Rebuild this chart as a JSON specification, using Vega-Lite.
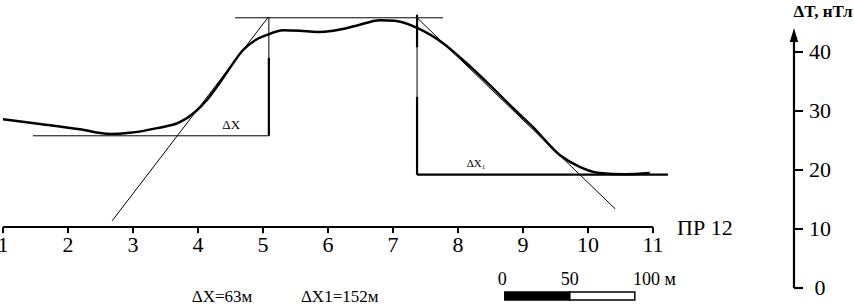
{
  "$schema": "https://vega.github.io/schema/vega-lite/v6.json",
  "width": 854,
  "height": 305,
  "autosize": "none",
  "padding": 0,
  "background": "white",
  "config": {"view": {"stroke": null}},
  "datasets": {
    "curve": [
      {"x": 1.0, "t": 28.6}, {"x": 1.57, "t": 27.8}, {"x": 2.18, "t": 26.9}, {"x": 2.65, "t": 26.1},
      {"x": 2.95, "t": 26.3}, {"x": 3.37, "t": 27.1}, {"x": 3.72, "t": 28.1}, {"x": 3.95, "t": 29.8},
      {"x": 4.14, "t": 31.9}, {"x": 4.29, "t": 34.1}, {"x": 4.49, "t": 37.3}, {"x": 4.69, "t": 40.3},
      {"x": 4.88, "t": 42.0}, {"x": 5.06, "t": 42.9}, {"x": 5.31, "t": 43.7}, {"x": 5.57, "t": 43.6},
      {"x": 5.83, "t": 43.4}, {"x": 6.08, "t": 43.6}, {"x": 6.42, "t": 44.4}, {"x": 6.8, "t": 45.4},
      {"x": 7.03, "t": 45.3}, {"x": 7.37, "t": 44.1}, {"x": 7.77, "t": 41.5}, {"x": 8.11, "t": 38.3},
      {"x": 8.45, "t": 34.8}, {"x": 8.8, "t": 31.0}, {"x": 9.15, "t": 27.3}, {"x": 9.57, "t": 22.5},
      {"x": 9.88, "t": 20.5}, {"x": 10.18, "t": 19.5}, {"x": 10.57, "t": 19.3}, {"x": 10.95, "t": 19.5}
    ],
    "thin": [
      {"x": 1.46, "t": 25.8, "x2": 5.09, "t2": 25.8},
      {"x": 5.09, "t": 25.8, "x2": 5.09, "t2": 45.9},
      {"x": 4.57, "t": 45.8, "x2": 7.77, "t2": 45.8},
      {"x": 7.37, "t": 46.3, "x2": 7.37, "t2": 19.2},
      {"x": 2.68, "t": 11.4, "x2": 5.08, "t2": 45.9},
      {"x": 7.37, "t": 45.8, "x2": 10.42, "t2": 13.4}
    ],
    "thick": [
      {"x": 5.09, "t": 25.8, "x2": 5.09, "t2": 39.0},
      {"x": 7.37, "t": 46.3, "x2": 7.37, "t2": 40.8},
      {"x": 7.37, "t": 32.4, "x2": 7.37, "t2": 19.2},
      {"x": 7.37, "t": 19.2, "x2": 11.23, "t2": 19.2},
      {"x": 1.0, "t": 10.34, "x2": 11.0, "t2": 10.34},
      {"x": 13.169, "t": 0.0, "x2": 13.169, "t2": 41.7},
      {"x": 13.169, "t": 0.0, "x2": 13.308, "t2": 0.0}
    ],
    "xticks": [
      {"x": 1, "label": "1"}, {"x": 2, "label": "2"}, {"x": 3, "label": "3"}, {"x": 4, "label": "4"},
      {"x": 5, "label": "5"}, {"x": 6, "label": "6"}, {"x": 7, "label": "7"}, {"x": 8, "label": "8"},
      {"x": 9, "label": "9"}, {"x": 10, "label": "10"}, {"x": 11, "label": "11"}
    ],
    "yticks": [
      {"t": 10, "label": "10"}, {"t": 20, "label": "20"}, {"t": 30, "label": "30"}, {"t": 40, "label": "40"}
    ],
    "notes": [
      {"x": 4.51, "t": 27.6, "label": "ΔX", "size": 13},
      {"x": 8.28, "t": 21.0, "label": "ΔX₁", "size": 11},
      {"x": 4.37, "t": -1.53, "label": "ΔX=63м", "size": 17},
      {"x": 6.18, "t": -1.53, "label": "ΔX1=152м", "size": 17},
      {"x": 8.68, "t": 1.36, "label": "0", "size": 18},
      {"x": 9.72, "t": 1.36, "label": "50", "size": 18},
      {"x": 13.57, "t": 0.0, "label": "0", "size": 22}
    ],
    "leftnotes": [
      {"x": 10.692, "t": 1.36, "label": "100 м", "size": 18},
      {"x": 11.37, "t": 10.2, "label": "ПР 12", "size": 22}
    ],
    "bar": [
      {"x": 8.72, "x2": 9.72, "t": -0.68, "t2": -2.03, "fill": "black"},
      {"x": 9.72, "x2": 10.72, "t": -0.68, "t2": -2.03, "fill": "white"}
    ]
  },
  "layer": [
    {
      "data": {"name": "thin"},
      "mark": {"type": "rule", "color": "black", "strokeWidth": 1},
      "encoding": {
        "x": {"field": "x", "type": "quantitative", "scale": {"domain": [0.9538, 14.0923], "nice": false, "zero": false}, "axis": null},
        "y": {"field": "t", "type": "quantitative", "scale": {"domain": [-2.881, 48.814], "nice": false, "zero": false}, "axis": null},
        "x2": {"field": "x2"},
        "y2": {"field": "t2"}
      }
    },
    {
      "data": {"name": "thick"},
      "mark": {"type": "rule", "color": "black", "strokeWidth": 2.2},
      "encoding": {
        "x": {"field": "x", "type": "quantitative"},
        "y": {"field": "t", "type": "quantitative"},
        "x2": {"field": "x2"},
        "y2": {"field": "t2"}
      }
    },
    {
      "data": {"name": "curve"},
      "mark": {"type": "line", "color": "black", "strokeWidth": 2.5, "interpolate": "monotone"},
      "encoding": {
        "x": {"field": "x", "type": "quantitative"},
        "y": {"field": "t", "type": "quantitative"}
      }
    },
    {
      "data": {"name": "xticks"},
      "mark": {"type": "rule", "color": "black", "strokeWidth": 2},
      "encoding": {
        "x": {"field": "x", "type": "quantitative"},
        "y": {"datum": 10.34},
        "y2": {"datum": 9.3}
      }
    },
    {
      "data": {"name": "xticks"},
      "mark": {"type": "text", "font": "Liberation Serif", "fontSize": 22, "baseline": "middle", "align": "center", "color": "black"},
      "encoding": {
        "x": {"field": "x", "type": "quantitative"},
        "y": {"datum": 7.3},
        "text": {"field": "label"}
      }
    },
    {
      "data": {"name": "yticks"},
      "mark": {"type": "rule", "color": "black", "strokeWidth": 2},
      "encoding": {
        "x": {"datum": 13.169},
        "x2": {"datum": 13.308},
        "y": {"field": "t", "type": "quantitative"}
      }
    },
    {
      "data": {"name": "yticks"},
      "mark": {"type": "text", "font": "Liberation Serif", "fontSize": 22, "baseline": "middle", "align": "left", "color": "black"},
      "encoding": {
        "x": {"datum": 13.4},
        "y": {"field": "t", "type": "quantitative"},
        "text": {"field": "label"}
      }
    },
    {
      "data": {"values": [{"x": 13.169, "t": 42.9}]},
      "mark": {"type": "point", "shape": "M0,-1L0.6,1L-0.6,1Z", "filled": true, "color": "black", "size": 196, "opacity": 1},
      "encoding": {
        "x": {"field": "x", "type": "quantitative"},
        "y": {"field": "t", "type": "quantitative"}
      }
    },
    {
      "data": {"values": [{"x": 14.07, "t": 46.8, "label": "ΔT, нТл"}]},
      "mark": {"type": "text", "font": "Liberation Serif", "fontSize": 17, "fontWeight": "bold", "baseline": "middle", "align": "right", "color": "black"},
      "encoding": {
        "x": {"field": "x", "type": "quantitative"},
        "y": {"field": "t", "type": "quantitative"},
        "text": {"field": "label"}
      }
    },
    {
      "data": {"name": "notes"},
      "mark": {"type": "text", "font": "Liberation Serif", "baseline": "middle", "align": "center", "color": "black"},
      "encoding": {
        "x": {"field": "x", "type": "quantitative"},
        "y": {"field": "t", "type": "quantitative"},
        "text": {"field": "label"},
        "size": {"field": "size", "type": "quantitative", "scale": null}
      }
    },
    {
      "data": {"name": "leftnotes"},
      "mark": {"type": "text", "font": "Liberation Serif", "baseline": "middle", "align": "left", "color": "black"},
      "encoding": {
        "x": {"field": "x", "type": "quantitative"},
        "y": {"field": "t", "type": "quantitative"},
        "text": {"field": "label"},
        "size": {"field": "size", "type": "quantitative", "scale": null}
      }
    },
    {
      "data": {"name": "bar"},
      "mark": {"type": "rect", "stroke": "black", "strokeWidth": 1.5},
      "encoding": {
        "x": {"field": "x", "type": "quantitative"},
        "x2": {"field": "x2"},
        "y": {"field": "t", "type": "quantitative"},
        "y2": {"field": "t2"},
        "fill": {"field": "fill", "type": "nominal", "scale": null}
      }
    }
  ]
}
